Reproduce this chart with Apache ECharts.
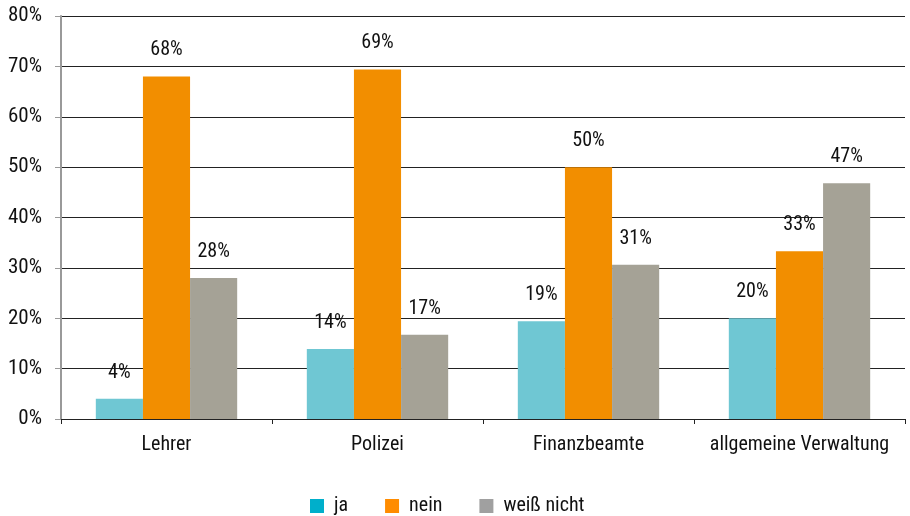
<!DOCTYPE html>
<html><head><meta charset="utf-8">
<script src="https://cdn.jsdelivr.net/npm/echarts@6/dist/echarts.min.js"></script>
<style>html,body{margin:0;padding:0;background:#fff}#c{width:910px;height:516px}</style>
</head><body><div id="c"></div>
<script>
var categories = ['Lehrer', 'Polizei', 'Finanzbeamte', 'allgemeine Verwaltung'];
var seriesNames = ['ja', 'nein', 'weiß nicht'];
var jaValues = [4.0, 13.9, 19.4, 20.0];
var neinValues = [68.0, 69.4, 50.0, 33.3];
var weissNichtValues = [28.0, 16.7, 30.6, 46.8];
var yTicks = [0, 10, 20, 30, 40, 50, 60, 70, 80];

var FONT = '"Roboto Condensed", "DejaVu Sans Condensed", sans-serif';
var barColors = ['#6FC7D3', '#F28E00', '#A5A296'];
var legendColors = ['#00AFCB', '#FF8C00', '#A0A0A0'];
var allValues = [jaValues, neinValues, weissNichtValues];

var chart = echarts.init(document.getElementById('c'), null, {renderer: 'canvas'});
chart.setOption({
  animation: false,
  textStyle: {fontFamily: FONT},
  grid: {left: 61, right: 5, top: 16, bottom: 97, containLabel: false},
  legend: {
    bottom: -5, left: 305,
    itemWidth: 14, itemHeight: 14, itemGap: 37,
    icon: 'rect',
    textStyle: {fontFamily: FONT, fontSize: 20, color: '#111', padding: [0, 0, 0, 5]},
    data: seriesNames.map(function (n, i) { return {name: n, itemStyle: {color: legendColors[i]}}; })
  },
  xAxis: {
    type: 'category',
    data: categories,
    axisLine: {lineStyle: {color: '#222', width: 1}},
    axisTick: {show: true, length: 5, lineStyle: {color: '#222'}},
    axisLabel: {interval: 0, fontFamily: FONT, fontSize: 20, color: '#111', margin: 16}
  },
  yAxis: {
    type: 'value', min: yTicks[0], max: yTicks[yTicks.length - 1], interval: 10,
    axisLine: {show: true, lineStyle: {color: '#999', width: 2}},
    axisTick: {show: true, length: 6, lineStyle: {color: '#999'}},
    axisLabel: {fontFamily: FONT, fontSize: 21, color: '#111', margin: 19, formatter: '{value}%'},
    splitLine: {show: true, lineStyle: {color: '#222', width: 1}}
  },
  series: seriesNames.map(function (n, i) {
    return {
      name: n, type: 'bar', data: allValues[i],
      barGap: '0%', barCategoryGap: '33%',
      itemStyle: {color: barColors[i]},
      label: {
        show: true, position: 'top', distance: 16,
        fontFamily: FONT, fontSize: 20, color: '#111',
        formatter: function (p) { return Math.round(p.value) + '%'; }
      }
    };
  })
});
</script></body></html>
